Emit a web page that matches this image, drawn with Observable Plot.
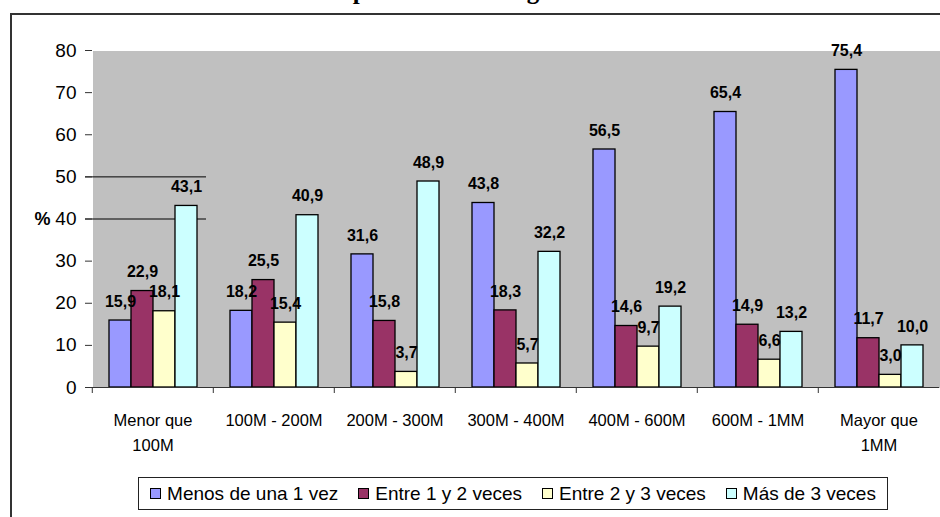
<!DOCTYPE html>
<html>
<head>
<meta charset="utf-8">
<script src="https://cdn.jsdelivr.net/npm/d3@7"></script>
<script src="https://cdn.jsdelivr.net/npm/@observablehq/plot@0.6"></script>
<style>
  html, body { margin: 0; padding: 0; background: #fff; }
  #wrap { position: relative; width: 940px; height: 517px; overflow: hidden; font-family: "Liberation Sans", Arial, sans-serif; }
  #title { position: absolute; top: -21px; left: 0; width: 936px; text-align: center; font-family: "Liberation Serif", "Times New Roman", serif; font-weight: bold; font-size: 25px; line-height: 24px; white-space: nowrap; }
  #frameTop { position: absolute; left: 11px; top: 13px; width: 940px; height: 0; border-top: 2px solid #333; }
  #frameLeft { position: absolute; left: 10px; top: 13px; width: 0; height: 520px; border-left: 2px solid #333; }
  #chart { position: absolute; left: 0; top: 0; }
  #legend { position: absolute; left: 138px; top: 477px; width: 750px; height: 33px; border: 1px solid #222; box-sizing: border-box; display: flex; align-items: center; justify-content: center; font-size: 19px; color: #000; }
  .item { display: flex; align-items: center; margin: 0 10px; white-space: nowrap; }
  .sw { width: 9px; height: 9px; border: 1px solid #000; margin-right: 6px; }
</style>
</head>
<body>
<div id="wrap">
  <div id="title">por niveles de ingreso</div>
  <div id="chart"></div>
  <div id="frameTop"></div>
  <div id="frameLeft"></div>
  <div id="legend"></div>
</div>
<script>
const categories = ["Menor que\n100M", "100M - 200M", "200M - 300M", "300M - 400M", "400M - 600M", "600M - 1MM", "Mayor que\n1MM"];
const series = ["Menos de una 1 vez", "Entre 1 y 2 veces", "Entre 2 y 3 veces", "Más de 3 veces"];
const menosDeUna = [15.9, 18.2, 31.6, 43.8, 56.5, 65.4, 75.4];
const entre1y2 = [22.9, 25.5, 15.8, 18.3, 14.6, 14.9, 11.7];
const entre2y3 = [18.1, 15.4, 3.7, 5.7, 9.7, 6.6, 3.0];
const masDe3 = [43.1, 40.9, 48.9, 32.2, 19.2, 13.2, 10.0];
const colors = ["#9999FF", "#993366", "#FFFFCC", "#CCFFFF"];
const yTicks = [0, 10, 20, 30, 40, 50, 60, 70, 80];
const yLabel = "%";
const strayLines = [50, 40];

const seriesValues = [menosDeUna, entre1y2, entre2y3, masDe3];
const data = [];
categories.forEach((c, i) => {
  series.forEach((s, j) => data.push({cat: c, series: s, value: seriesValues[j][i]}));
});

const W = 940, H = 470, ML = 90, MR = 0, MT = 50, MB = 83;
const halfStep = (W - ML - MR) / categories.length / 2;
const font = "'Liberation Sans', Arial, sans-serif";

const chart = Plot.plot({
  width: W, height: H,
  marginLeft: ML, marginRight: MR, marginTop: MT, marginBottom: MB,
  style: {background: "transparent", fontFamily: font, color: "#000", overflow: "visible"},
  fx: {domain: categories, padding: 0, label: null},
  x: {domain: series, paddingInner: 0, paddingOuter: 0.72, axis: null},
  y: {domain: [0, 80], label: null},
  color: {domain: series, range: colors},
  marks: [
    Plot.frame({fill: "#C0C0C0", stroke: null, shapeRendering: "crispEdges"}),
    Plot.ruleY(strayLines.map(v => ({cat: categories[0], v})), {fx: "cat", y: "v", stroke: "#000", strokeWidth: 1, insetLeft: -7, insetRight: 7}),
    Plot.barY(data, {fx: "cat", x: "series", y: "value", fill: "series", stroke: "#000", strokeWidth: 1.3}),
    Plot.text(data, {fx: "cat", x: "series", y: "value", text: d => d.value.toFixed(1).replace(".", ","), dy: -19, fontWeight: "bold", fontSize: 16, fill: "#000"}),
    Plot.ruleY([0], {stroke: "#333", strokeWidth: 1.2}),
    Plot.axisY(yTicks, {tickSize: 7, tickPadding: 9, fontSize: 19, stroke: "#333", line: true, label: null}),
    Plot.text([{cat: categories[0], v: 40}], {fx: "cat", y: "v", text: () => yLabel, frameAnchor: "left", dx: -58, textAnchor: "start", fontWeight: "bold", fontSize: 18, fill: "#000"}),
    Plot.axisFx({anchor: "bottom", tickSize: 0, tickPadding: 21, fontSize: 16.5, lineHeight: 1.52, label: null}),
    Plot.axisFx({anchor: "bottom", tickSize: 6, tickFormat: () => "", dx: -halfStep, stroke: "#333", label: null})
  ]
});
document.getElementById("chart").appendChild(chart);

const legend = document.getElementById("legend");
series.forEach((s, j) => {
  const item = document.createElement("div");
  item.className = "item";
  const sw = document.createElement("div");
  sw.className = "sw";
  sw.style.background = colors[j];
  const t = document.createElement("span");
  t.textContent = s;
  item.appendChild(sw);
  item.appendChild(t);
  legend.appendChild(item);
});
</script>
</body>
</html>
